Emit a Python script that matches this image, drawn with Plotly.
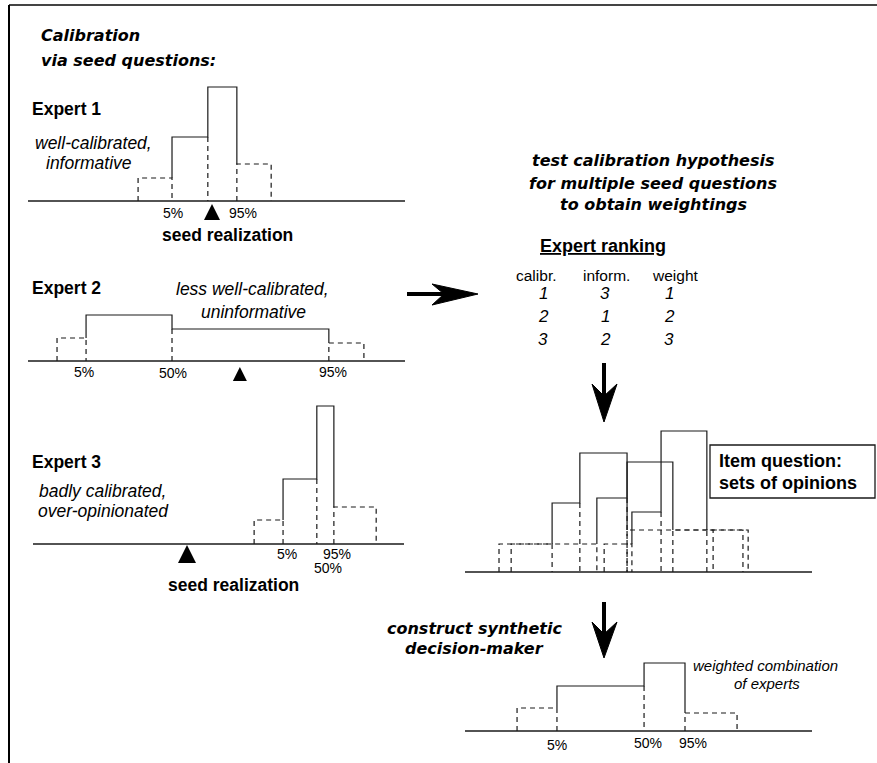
import plotly.graph_objects as go

W, H = 877, 763

# ---------------- data (quantile bin edges: low, 5%, 50%, 95%, high; bin heights) ----------------
e1_edges = [29.2, 38.2, 47.7, 55.4, 64.5]
e1_heights = [23, 64, 114, 37]
e1_seed = 48.8

e2_edges = [7.7, 15.4, 38.2, 79.8, 89.1]
e2_heights = [23, 46, 32, 18]
e2_seed = 56.2

e3_edges = [59.6, 67.4, 76.5, 81.1, 92.5]
e3_heights = [24, 65, 138, 37]
e3_seed = 41.5

item_a_edges = [9.8, 25.1, 33.1, 46.7, 71.5]
item_a_heights = [28, 69, 119, 42]
item_b_edges = [13.3, 38.0, 46.7, 59.9, 80.1]
item_b_heights = [28, 74, 110, 42]
item_c_edges = [40.1, 48.1, 56.5, 69.7, 81.6]
item_c_heights = [28, 60, 141, 42]

dm_edges = [15.0, 26.5, 51.6, 63.4, 78.4]
dm_heights = [23, 45, 68, 18]

rank_headers = ["calibr.", "inform.", "weight"]
rank_calibr = [1, 2, 3]
rank_inform = [3, 1, 2]
rank_weight = [1, 2, 3]

pct_labels = ["5%", "50%", "95%"]

# ---------------- styling / layout geometry ----------------
INK = "#1a1a1a"
SANS = "Liberation Sans"
DJV = "DejaVu Sans"

fig = go.Figure()

# full-page pixel overlay axes (x, y)
layout_axes = {
    "xaxis": dict(domain=[0, 1], range=[0, W], visible=False, fixedrange=True),
    "yaxis": dict(domain=[0, 1], range=[H, 0], visible=False, fixedrange=True, anchor="x"),
}

# panel placement in pixels: (left, right, baseline)
panels = {
    2: (28, 405, 201),
    3: (28, 405, 361),
    4: (33, 404, 544),
    5: (465, 812, 572),
    6: (465, 812, 731),
}
BELOW, ABOVE = 30, 150
for k, (x0, x1, base) in panels.items():
    layout_axes[f"xaxis{k}"] = dict(domain=[x0 / W, x1 / W], range=[0, 100], visible=False,
                                    anchor=f"y{k}", fixedrange=True)
    layout_axes[f"yaxis{k}"] = dict(domain=[1 - (base + BELOW) / H, 1 - (base - ABOVE) / H],
                                    range=[-BELOW, ABOVE], visible=False, anchor=f"x{k}", fixedrange=True)


def add_hist(k, edges, heights):
    e0, e1, e2, e3, e4 = edges
    hl, h1, h2, hr = heights
    xa, ya = f"x{k}", f"y{k}"
    fig.add_trace(go.Scatter(
        x=[e1, e1, e2, e2, e3, e3], y=[hl, h1, h1, h2, h2, hr],
        mode="lines", line=dict(color=INK, width=1.2), xaxis=xa, yaxis=ya,
        hoverinfo="skip", showlegend=False))
    fig.add_trace(go.Scatter(
        x=[e0, e0, e1, e1, None, e2, e2, None, e3, e3, e4, e4],
        y=[0, hl, hl, 0, None, min(h1, h2), 0, None, 0, hr, hr, 0],
        mode="lines", line=dict(color=INK, width=1.2, dash="5px,4px"), xaxis=xa, yaxis=ya,
        hoverinfo="skip", showlegend=False))


def add_baseline(k):
    fig.add_trace(go.Scatter(
        x=[0, 100], y=[0, 0], mode="lines", line=dict(color=INK, width=1.5),
        xaxis=f"x{k}", yaxis=f"y{k}", hoverinfo="skip", showlegend=False))


def add_seed(k, seed, tip, size):
    fig.add_trace(go.Scatter(
        x=[seed], y=[tip], mode="markers",
        marker=dict(symbol="arrow-up", size=size, color="black", line=dict(width=0)),
        xaxis=f"x{k}", yaxis=f"y{k}", hoverinfo="skip", showlegend=False))


annotations = []


def txt(text, x, y, size, xanchor="center", weight="normal", style="normal", family=SANS,
        xref="x", xshift=0):
    annotations.append(dict(
        text=text, x=x, y=y, xref=xref, yref="y", xanchor=xanchor, yanchor="middle",
        showarrow=False, xshift=xshift,
        font=dict(family=family, size=size, color="black", weight=weight, style=style)))


def pct(k, edges, ys, shifts):
    for lab, e, yy, s in zip(pct_labels, edges[1:4], ys, shifts):
        if lab is None:
            continue
        txt(lab, e, yy, 14, xref=f"x{k}", xshift=s)


# Expert 1
add_baseline(2)
add_hist(2, e1_edges, e1_heights)
add_seed(2, e1_seed, -3, 16)
txt(pct_labels[0], e1_edges[1], 213, 14, xref="x2", xshift=1)
txt(pct_labels[2], e1_edges[3], 213, 14, xref="x2", xshift=6)

# Expert 2
add_baseline(3)
add_hist(3, e2_edges, e2_heights)
add_seed(3, e2_seed, -6, 14)
pct(3, e2_edges, [372, 373, 372], [-2, 1, 4])

# Expert 3
add_baseline(4)
add_hist(4, e3_edges, e3_heights)
add_seed(4, e3_seed, -1, 18)
pct(4, e3_edges, [554, 568, 554], [4, 11, 3])

# Item question: sets of opinions
add_baseline(5)
add_hist(5, item_a_edges, item_a_heights)
add_hist(5, item_b_edges, item_b_heights)
add_hist(5, item_c_edges, item_c_heights)

# Synthetic decision maker
add_baseline(6)
add_hist(6, dm_edges, dm_heights)
pct(6, dm_edges, [745, 743, 743], [0, 4, 8])

# ---------------- texts ----------------
txt("Calibration", 39, 35, 16, "left", "bold", "italic", DJV)
txt("via seed questions:", 39, 60, 16, "left", "bold", "italic", DJV)

txt("Expert 1", 30, 109, 17.5, "left", "bold")
txt("well-calibrated,", 93, 143, 17.5, style="italic")
txt("informative", 89, 163, 17.5, style="italic")
txt("seed realization", 227, 235, 17.5, weight="bold")

txt("Expert 2", 30, 288, 17.5, "left", "bold")
txt("less well-calibrated,", 252, 289, 17.5, style="italic")
txt("uninformative", 253, 312, 17.5, style="italic")

txt("Expert 3", 30, 462, 17.5, "left", "bold")
txt("badly calibrated,", 102, 491, 17.5, style="italic")
txt("over-opinionated", 103, 511, 17.5, style="italic")
txt("seed realization", 233, 585, 17.5, weight="bold")

txt("test calibration hypothesis", 653, 160, 16, weight="bold", style="italic", family=DJV)
txt("for multiple seed questions", 653, 183, 16, weight="bold", style="italic", family=DJV)
txt("to obtain weightings", 653, 204, 16, weight="bold", style="italic", family=DJV)

txt("<u>Expert ranking</u>", 603, 246, 18, weight="bold")
col_x = [536, 606, 675]
num_x = [543, 605, 669]
row_y = [293, 316, 339]
for h, cx in zip(rank_headers, col_x):
    txt(h, cx, 275, 15.5)
for col, nx in zip([rank_calibr, rank_inform, rank_weight], num_x):
    for v, ry in zip(col, row_y):
        txt(str(v), nx, ry, 17, style="italic")

txt("Item question:", 717, 461, 18, "left", "bold")
txt("sets of opinions", 717, 483, 18, "left", "bold")

txt("construct synthetic", 474, 628, 16, weight="bold", style="italic", family=DJV)
txt("decision-maker", 474, 648, 16, weight="bold", style="italic", family=DJV)

txt("weighted combination", 765, 665, 15, style="italic")
txt("of experts", 767, 683, 15, style="italic")

# ---------------- decorative shapes (page frame, flow arrows, box) ----------------
shapes = [
    dict(type="line", xref="x", yref="y", x0=9, y0=5, x1=W, y1=5, line=dict(color="#444", width=2)),
    dict(type="line", xref="x", yref="y", x0=9, y0=5, x1=9, y1=H, line=dict(color="black", width=2)),
    dict(type="rect", xref="x", yref="y", x0=710, y0=445, x1=875, y1=498,
         line=dict(color=INK, width=1.3), fillcolor="white", layer="below"),
    # horizontal arrow
    dict(type="line", xref="x", yref="y", x0=407, y0=294, x1=445, y1=294,
         line=dict(color="black", width=4)),
    dict(type="path", xref="x", yref="y", path="M 478 294 L 432 284 L 444 294 L 432 305 Z",
         fillcolor="black", line=dict(color="black", width=1)),
    # down arrow 1
    dict(type="line", xref="x", yref="y", x0=604, y0=363, x1=604, y1=398,
         line=dict(color="black", width=4)),
    dict(type="path", xref="x", yref="y", path="M 604 422 L 592 384 L 604 396 L 617 384 Z",
         fillcolor="black", line=dict(color="black", width=1)),
    # down arrow 2
    dict(type="line", xref="x", yref="y", x0=604, y0=602, x1=604, y1=636,
         line=dict(color="black", width=4)),
    dict(type="path", xref="x", yref="y", path="M 604 658 L 592 622 L 604 634 L 617 622 Z",
         fillcolor="black", line=dict(color="black", width=1)),
]

fig.update_layout(
    width=W, height=H, margin=dict(l=0, r=0, t=0, b=0),
    paper_bgcolor="white", plot_bgcolor="rgba(0,0,0,0)",
    showlegend=False, annotations=annotations, shapes=shapes,
    **layout_axes,
)

fig.write_html(
    "out.html",
    config={"displayModeBar": False},
    post_script="document.body.style.margin='0';document.body.style.overflow='hidden';",
)
